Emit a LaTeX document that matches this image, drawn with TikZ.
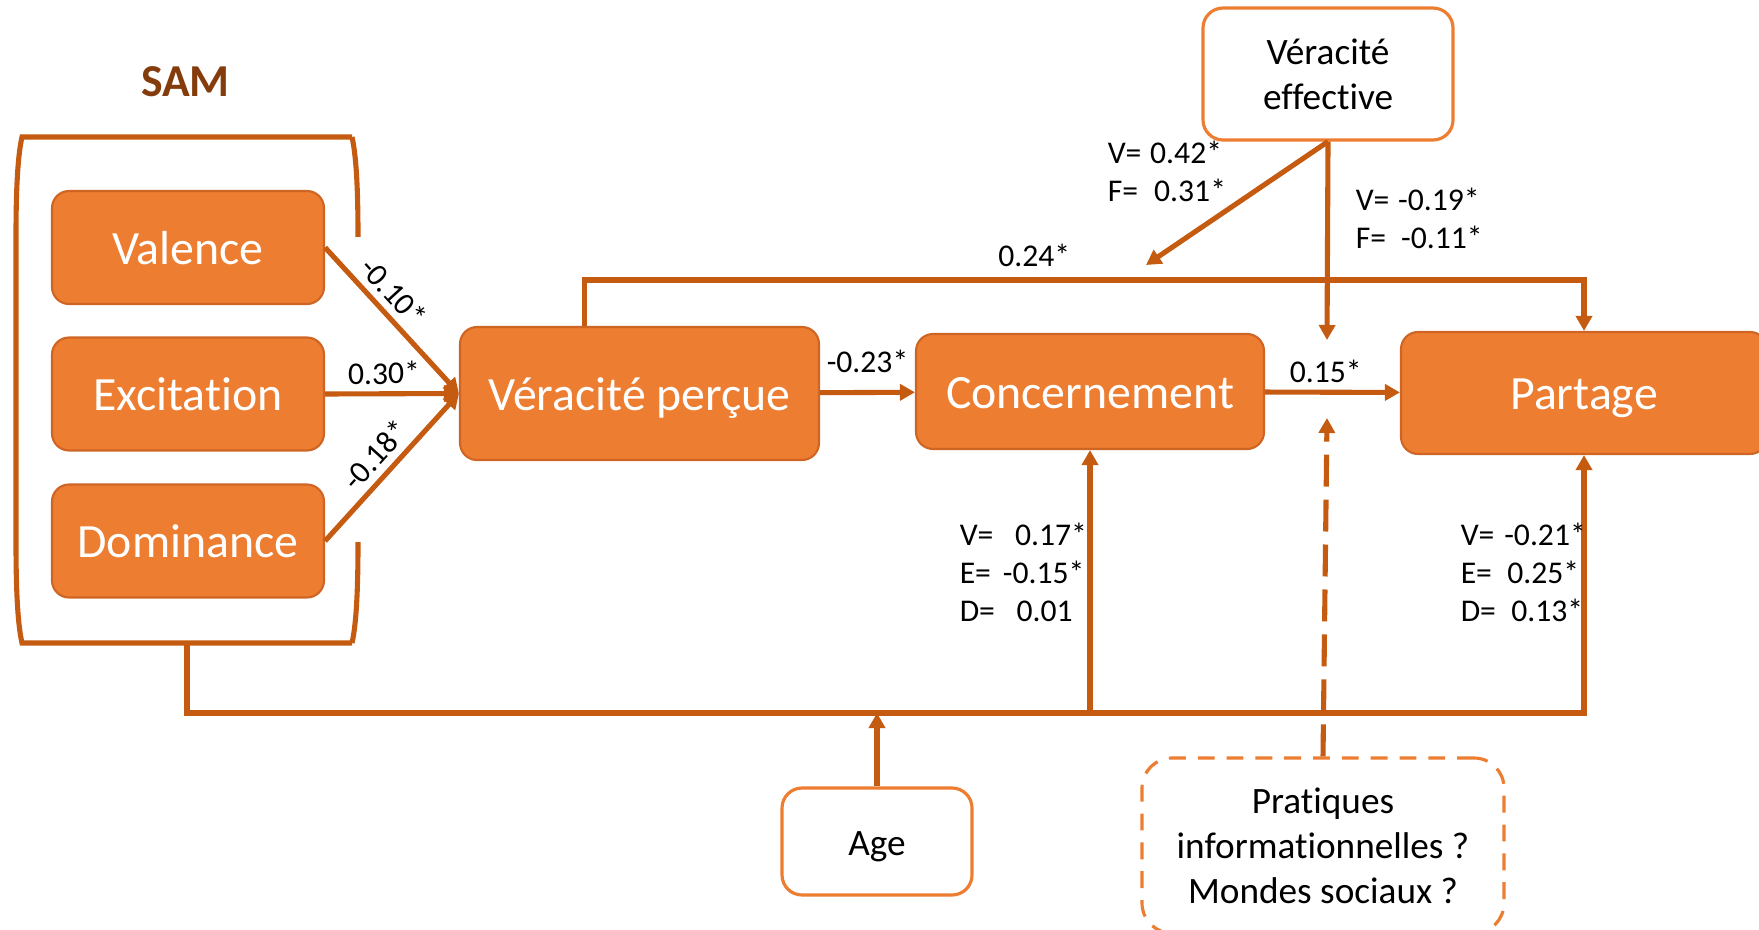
\documentclass[tikz,border=0pt]{standalone}
\usepackage{fontspec}
\setmainfont{Carlito}[Ligatures=NoCommon]
\usetikzlibrary{arrows.meta}
\definecolor{accentorange}{HTML}{ED7D31}
\definecolor{lineorange}{HTML}{C55A11}
\definecolor{edgeorange}{HTML}{CF6524}
\definecolor{sambrown}{HTML}{843C0C}

\begin{document}
\begin{tikzpicture}[
  varbox/.style={rectangle, rounded corners=0.17cm, fill=accentorange, draw=edgeorange, line width=0.6pt, text=white, text height=9.5pt, text depth=0pt, font=\fontsize{13.6}{15}\selectfont},
  ctrlbox/.style={rectangle, rounded corners=0.2cm, fill=white, draw=accentorange, line width=0.9pt, align=center, font=\fontsize{10.6}{12.8}\selectfont},
  link/.style={draw=lineorange, line width=1.45pt, -{Triangle[length=0.15cm,width=0.16cm]}},
  coef/.style={font=\fontsize{9}{10.8}\selectfont, inner sep=2pt}
]
\useasboundingbox (0,0) rectangle (17.59,9.29);

% SAM bracket
\node[font=\bfseries\fontsize{13}{15}\selectfont, text=sambrown] (sam) at (1.855,8.47) {SAM};
\draw[lineorange, line width=1.45pt] (3.52,7.92) -- (0.22,7.92) .. controls (0.17,7.7) and (0.16,7.3) .. (0.16,6.92) -- (0.16,3.87) .. controls (0.16,3.48) and (0.17,3.08) .. (0.22,2.86) -- (3.52,2.86);
\draw[lineorange, line width=1.45pt] (3.52,7.92) .. controls (3.57,7.7) and (3.58,7.3) .. (3.58,6.92);
\draw[lineorange, line width=1.45pt] (3.58,3.87) .. controls (3.58,3.48) and (3.57,3.08) .. (3.52,2.86);

% Main variables
\node[varbox, minimum width=3.59cm, minimum height=1.33cm] (vperc) at (6.395,5.355) {Véracité perçue};
\node[varbox, minimum width=3.48cm, minimum height=1.15cm] (conc) at (10.90,5.375) {Concernement};
\node[varbox, minimum width=3.66cm, minimum height=1.22cm] (part) at (15.84,5.36) {Partage};

% SAM dimensions and their paths
\foreach \name/\ypos/\txt/\coefval/\where in {val/6.815/Valence/-0.10*/0.40, exc/5.35/Excitation/0.30*/0.44, dom/3.88/Dominance/-0.18*/0.49} {
  \node[varbox, minimum width=2.72cm, minimum height=1.13cm] (\name) at (1.88,\ypos) {\txt};
  \draw[link] (\name.east) -- node[coef, sloped, above, pos=\where] (l\name) {\coefval} (vperc.west);
}

% Control variables
\node[ctrlbox, minimum width=2.5cm, minimum height=1.32cm] (veff) at (13.28,8.55) {Véracité\\effective};
\node[ctrlbox, text height=8.1pt, text depth=0pt, minimum width=1.9cm, minimum height=1.07cm] (age) at (8.77,0.875) {Age};
\node[ctrlbox, dash pattern=on 4.8pt off 3.4pt, rounded corners=0.3cm, minimum width=3.62cm, minimum height=1.752cm] (prat) at (13.23,0.834) {Pratiques\\informationnelles ?\\Mondes sociaux ?};

\coordinate (samstem) at (1.87,2.86);
\coordinate (samfoot) at (1.87,2.16);
\coordinate (bend) at (5.845,6.49);
\coordinate (vtip) at (13.27,5.89);
\coordinate (dtip) at (11.46,6.64);
\coordinate (ptip) at (13.27,5.11);

% Paths between variables
\draw[link] (vperc) -- node[coef, above=3pt] (lvperc) {-0.23*} (conc);
\draw[link] (conc) -- node[coef, above, pos=0.45] (lconc) {0.15*} (part);
\draw[link] (bend |- vperc.north) -- (bend) -- node[coef, above=1pt, pos=0.45] (ldirect) {0.24*} (bend -| part.north) -- (part.north);

% Veracite effective
\draw[link] (veff.south) -- (vtip);
\draw[link] (veff.south) -- (dtip);
\node[coef, anchor=west, align=left] (lveffa) at (11.00,7.58) {V=\hspace{2.5pt}0.42*\\F=\hspace{4.6pt}0.31*};
\node[coef, anchor=west, align=left] (lveffb) at (13.48,7.105) {V=\hspace{2.5pt}-0.19*\\F=\hspace{4.3pt}-0.11*};

% Moderators
\draw[link, dash pattern=on 9.1pt off 3.7pt] (prat.north) -- (ptip);
\draw[link] (samstem) -- (samfoot) -| (part.south);
\draw[link] (samfoot -| conc.south) -- (conc.south);
\draw[link] (age.north) -- (age.north |- samfoot);
\node[coef, anchor=west, align=left] (lsamconc) at (9.52,3.57) {V=\hspace{3.4pt}\phantom{-}0.17*\\E=\hspace{3.4pt}-0.15*\\D=\hspace{3.4pt}\phantom{-}0.01};
\node[coef, anchor=west, align=left] (lsampart) at (14.53,3.57) {V=\hspace{2.8pt}-0.21*\\E=\hspace{4.4pt}0.25*\\D=\hspace{4.4pt}0.13*};
\end{tikzpicture}
\end{document}
